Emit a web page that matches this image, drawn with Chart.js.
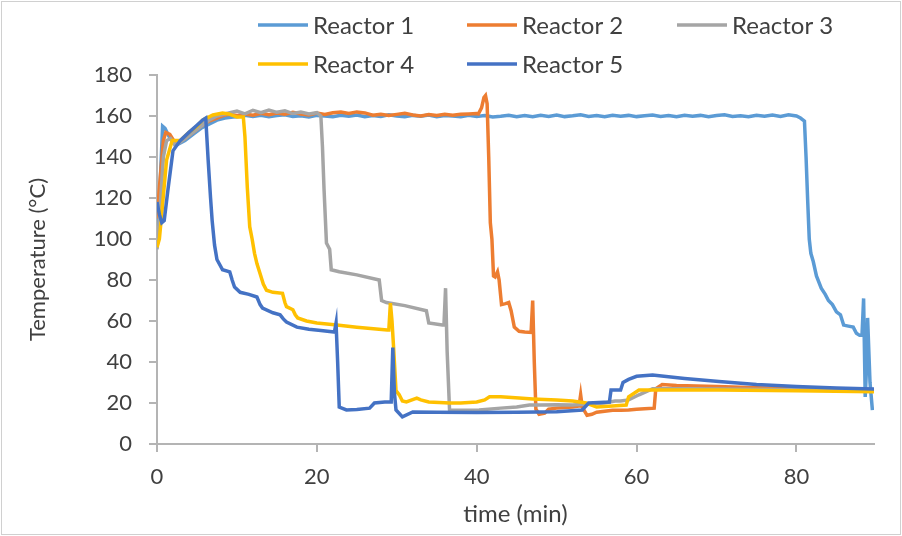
<!DOCTYPE html>
<html>
<head>
<meta charset="utf-8">
<title>Reactor temperature</title>
<script src="https://cdn.jsdelivr.net/npm/chart.js@4.4.1/dist/chart.umd.min.js"></script>
<style>
	html, body { margin: 0; padding: 0; background: #fff; }
	#wrap { width: 902px; height: 536px; }
</style>
</head>
<body>
<div id="wrap"><canvas id="myChart" width="902" height="536"></canvas></div>
<script>
// series names + colours
const seriesNames = ['Reactor 1', 'Reactor 2', 'Reactor 3', 'Reactor 4', 'Reactor 5'];
const seriesColors = ['#5B9BD5', '#ED7D31', '#A5A5A5', '#FFC000', '#4472C4'];

// axis ticks
const xTicks = [0, 20, 40, 60, 80];
const yTicks = [0, 20, 40, 60, 80, 100, 120, 140, 160, 180];

// Reactor 1 (time in min, temperature in °C)
const r1Time = [0, 0.3, 0.7, 1.0, 1.5, 2.0, 2.5, 3.5, 4.5, 5.5, 6.5, 7.5, 8.5, 9.5,
	10, 11, 12, 13, 14, 15, 16, 17, 18, 19, 20, 21, 22, 23, 24, 25, 26, 27, 28, 29,
	30, 31, 32, 33, 34, 35, 36, 37, 38, 39, 40, 41, 42, 43, 44, 45, 46, 47, 48, 49,
	50, 51, 52, 53, 54, 55, 56, 57, 58, 59, 60, 61, 62, 63, 64, 65, 66, 67, 68, 69,
	70, 71, 72, 73, 74, 75, 76, 77, 78, 79, 80,
	80.5, 81.0, 81.2, 81.4, 81.6, 81.8, 82.1, 82.5, 83.1, 83.6, 84, 84.5, 85, 85.5, 85.9,
	86.5, 87.1, 87.5, 87.9, 88.2, 88.4, 88.6, 88.8, 88.9, 89.2, 89.5];
const r1Temp = [96, 118, 155, 154, 150, 147, 146, 148, 151, 154, 156, 158, 159, 159.5,
	159.6, 160.3, 159.8, 160.4, 159.7, 160.2, 160.6, 159.8, 160.1, 159.5, 160.3, 160.0, 159.6, 160.4, 159.9, 160.5, 159.7, 160.2, 159.8, 160.6,
	160.0, 159.6, 160.3, 159.9, 160.5, 159.7, 160.2, 160.0, 159.6, 160.4, 159.8, 160.2, 159.5, 159.9, 160.4, 159.7, 160.2, 159.6, 160.3, 159.8,
	160.5, 159.7, 160.1, 160.6, 159.8, 160.2, 159.6, 160.4, 159.9, 160.3, 159.7, 160.1, 160.5, 159.8, 160.2, 159.6, 160.4, 159.9, 160.3, 159.7,
	160.2, 160.6, 159.8, 160.1, 159.6, 160.4, 159.9, 160.5, 159.8, 160.6, 160.0,
	159, 157.5, 140, 119, 100, 93, 89, 82, 76, 73, 70, 68, 64.5, 63, 58,
	57.5, 57, 54, 53, 53, 71, 23, 40, 61.5, 30, 16.5];

// Reactor 2
const r2Time = [0, 0.3, 0.8, 1.1, 1.6, 2.1, 2.6, 3.5, 4.5, 5.5, 6.5, 7.5, 8.5,
	9, 10, 11, 12, 13, 14, 15, 16, 17, 18, 19, 20, 21, 22, 23, 24, 25, 26, 27, 28, 29,
	30, 31, 32, 33, 34, 35, 36, 37, 38, 39, 40,
	40.2, 40.6, 40.9, 41.1, 41.3, 41.5, 41.7, 41.9, 42.1, 42.3, 42.6, 42.8, 43.1, 43.6,
	44.0, 44.3, 44.7, 45.3, 46.0, 46.8, 47.0, 47.2, 47.4, 47.8, 48.5, 49, 50, 51, 52,
	52.8, 53.0, 53.2, 53.8, 54.4, 55, 56, 57, 58, 59, 60, 61, 62.2, 62.4, 63.2, 65,
	70, 75, 80, 85, 89.7];
const r2Temp = [110, 125, 148, 152, 151, 148, 147, 149, 152, 155, 157.5, 159, 160.5,
	160.8, 160.2, 161.0, 160.4, 161.3, 160.6, 161.5, 160.9, 161.8, 161.0, 160.5, 161.4, 160.7, 161.6, 161.9, 161.2, 162.0, 161.5, 160.4, 160.9, 160.2,
	160.8, 161.3, 160.5, 160.0, 160.7, 160.3, 160.9, 160.4, 160.8, 161.0, 161.2,
	161, 164, 169, 170, 166, 140, 108, 100, 82, 81.5, 84, 80, 68, 68.5,
	69, 65, 57, 55, 54.6, 54.4, 70, 40, 17, 14.5, 15, 17, 17.5, 17.8, 18,
	18.5, 24, 18, 14, 14.5, 15.5, 16, 16.5, 16.5, 16.6, 17, 17.2, 17.5, 27, 29, 28.5,
	28, 27.5, 27, 26.7, 26.5];

// Reactor 3
const r3Time = [0, 0.3, 0.8, 1.2, 1.7, 2.2, 2.8, 3.5, 4.5, 5.5, 6.5, 7.5, 8.5,
	9, 10, 11, 12, 13, 14, 15, 16, 17, 18, 19, 20,
	20.5, 20.7, 20.9, 21.2, 21.6, 21.8, 22.8, 25, 27.8, 28.1, 28.7, 31, 33.7, 34, 35.7, 35.9,
	36.1, 36.3, 36.6, 38, 40.3, 43, 45, 46.6, 48, 50, 52, 54, 56, 57.3, 58, 59, 60.3, 61.2, 62,
	65, 70, 80, 89.7];
const r3Temp = [95, 110, 140, 148, 149, 146, 147, 149, 152, 155, 158, 160, 161,
	161.5, 162.4, 161.0, 162.8, 161.6, 162.9, 161.8, 162.5, 161.2, 161.9, 161.0, 161.6,
	160, 145, 124, 98, 95, 85, 84, 82.5, 80, 70, 69, 67.5, 65, 59, 58, 58,
	76, 45, 16.5, 16.5, 16.6, 17.5, 18, 19, 19, 19.2, 19, 19.5, 20, 21, 21, 21.5, 24, 25.5, 27,
	27, 26.8, 26.5, 26];

// Reactor 4
const r4Time = [0, 0.3, 0.6, 1.2, 1.9, 2.9, 4, 5, 5.7, 7, 8.2, 9, 10, 10.8,
	11.0, 11.3, 11.6, 11.9, 12.2, 12.5, 12.9, 13.3, 13.7, 14.5, 15.7, 16.0, 16.2, 17.0,
	17.3, 17.6, 18.7, 20, 22.5, 25, 28.8, 29.0, 29.2, 29.4, 29.6, 29.9, 30.3, 30.7, 31.2,
	32.5, 33, 34, 36.6, 38, 40, 41, 41.6, 43, 45.3, 47, 50, 52, 53.7, 55, 57, 58.7, 59,
	60.3, 65, 70.3, 80, 89.7];
const r4Temp = [96, 100, 112.6, 138.5, 148, 148, 152, 155, 158, 160.5, 161.5, 161, 159.5, 159.5,
	150, 125, 106, 100, 93, 88, 83, 78, 75, 74, 73.5, 69, 67, 65.5,
	63, 61.5, 60, 59, 58, 57, 55.6, 55.6, 68.7, 60, 47, 26, 24, 21, 20.5,
	22.4, 21.5, 20.5, 20, 20, 20.5, 21.5, 23, 23, 22.4, 22, 21.5, 21, 20, 18, 18.5, 19, 23,
	26.3, 26.3, 26.3, 26, 25.5];

// Reactor 5
const r5Time = [0, 0.3, 0.6, 0.9, 1.4, 2, 2.9, 4, 5, 5.7, 6.1, 6.4, 6.7, 6.9, 7.2, 7.5,
	8.2, 9.1, 9.4, 9.7, 10.4, 11.5, 12.5, 12.9, 13.2, 14.5, 15.4, 15.8, 16.2, 17.5, 19,
	20.5, 22.2, 22.4, 22.6, 22.8, 23.7, 25, 26.6, 27.2, 28.5, 29.3, 29.5, 29.7, 29.9, 30.7,
	32, 35, 40, 45, 50, 53.2, 54, 56.6, 56.8, 58, 58.3, 59, 60, 62, 66, 70.3, 75, 80, 85, 89.7];
const r5Temp = [118, 112, 108, 109, 125, 143, 148, 152, 155.5, 158, 159, 138.5, 120, 109, 97, 90,
	85, 84, 80, 76.6, 74, 73, 71.7, 68, 66.3, 64, 63, 61, 59.5, 57, 56,
	55.4, 54.6, 59, 40, 18, 16.6, 16.8, 17.5, 20, 20.5, 20.5, 47, 25, 16.6, 13.2,
	15.6, 15.5, 15.4, 15.5, 15.7, 16.6, 20, 20.5, 26.3, 26.3, 30, 31.5, 33, 33.6, 32, 30.5, 29, 28, 27.3, 26.8];

const allTimes = [r1Time, r2Time, r3Time, r4Time, r5Time];
const allTemps = [r1Temp, r2Temp, r3Temp, r4Temp, r5Temp];

const FONT = 'Lato';
const TEXT_COLOR = '#404040';
const AXIS_COLOR = '#b4b4b4';

function toPoints(times, temps) {
	return times.map((t, i) => ({ x: t, y: temps[i] }));
}

const datasets = seriesNames.map((name, i) => ({
	label: name,
	data: toPoints(allTimes[i], allTemps[i]),
	borderColor: seriesColors[i],
	backgroundColor: seriesColors[i],
	borderWidth: 3.5,
	pointRadius: 0,
	showLine: true,
	tension: 0,
	// excel draws the last series on top
	order: seriesNames.length - 1 - i
}));

// legend laid out in a fixed grid like the excel one
const legendCols = [258, 467, 677];
const legendRows = [25, 64];

const gridLegend = {
	id: 'gridLegend',
	afterDraw(chart) {
		const ctx = chart.ctx;
		ctx.save();
		ctx.font = '24px ' + FONT;
		ctx.textBaseline = 'middle';
		ctx.textAlign = 'left';
		seriesNames.forEach((name, i) => {
			const x = legendCols[i % 3];
			const y = legendRows[Math.floor(i / 3)];
			ctx.strokeStyle = seriesColors[i];
			ctx.lineWidth = 3.5;
			ctx.beginPath();
			ctx.moveTo(x, y);
			ctx.lineTo(x + 50, y);
			ctx.stroke();
			ctx.fillStyle = TEXT_COLOR;
			ctx.fillText(name, x + 55, y + 1);
		});
		ctx.restore();
	}
};

// thin frame round the whole chart
const frame = {
	id: 'frame',
	beforeDraw(chart) {
		const ctx = chart.ctx;
		ctx.save();
		ctx.fillStyle = '#fff';
		ctx.fillRect(0, 0, chart.width, chart.height);
		ctx.strokeStyle = '#d0d0d0';
		ctx.lineWidth = 1;
		ctx.strokeRect(1.5, 1.5, chart.width - 3, chart.height - 3);
		ctx.restore();
	}
};

const ctx = document.getElementById('myChart');
const myChart = new Chart(ctx, {
	type: 'scatter',
	data: { datasets: datasets },
	options: {
		responsive: false,
		animation: false,
		events: [],
		layout: {
			padding: { top: 75, right: 28, left: 0, bottom: 0 }
		},
		plugins: {
			legend: { display: false },
			tooltip: { enabled: false }
		},
		scales: {
			x: {
				type: 'linear',
				min: 0,
				max: 89.7,
				afterFit: function (scale) { scale.height = 92; },
				afterBuildTicks: function (scale) { scale.ticks = xTicks.map(v => ({ value: v })); },
				ticks: {
					stepSize: 20,
					includeBounds: false,
					padding: 12,
					color: TEXT_COLOR,
					font: { family: FONT, size: 22 }
				},
				grid: {
					drawOnChartArea: false,
					drawTicks: true,
					tickLength: 8,
					color: AXIS_COLOR,
					lineWidth: 2
				},
				border: { display: true, color: AXIS_COLOR, width: 2 },
				title: {
					display: true,
					text: 'time (min)',
					color: TEXT_COLOR,
					font: { family: FONT, size: 24 },
					padding: { top: 4, bottom: 7 }
				}
			},
			y: {
				min: 0,
				max: 180,
				afterFit: function (scale) { scale.width = 157; },
				afterBuildTicks: function (scale) { scale.ticks = yTicks.map(v => ({ value: v })); },
				ticks: {
					stepSize: 20,
					padding: 17,
					color: TEXT_COLOR,
					font: { family: FONT, size: 22 }
				},
				grid: {
					drawOnChartArea: false,
					drawTicks: true,
					tickLength: 8,
					color: AXIS_COLOR,
					lineWidth: 2
				},
				border: { display: true, color: AXIS_COLOR, width: 2 },
				title: {
					display: true,
					text: 'Temperature (°C)',
					color: TEXT_COLOR,
					font: { family: FONT, size: 22 },
					padding: { top: 25, bottom: 0 }
				}
			}
		}
	},
	plugins: [frame, gridLegend]
});
</script>
</body>
</html>
